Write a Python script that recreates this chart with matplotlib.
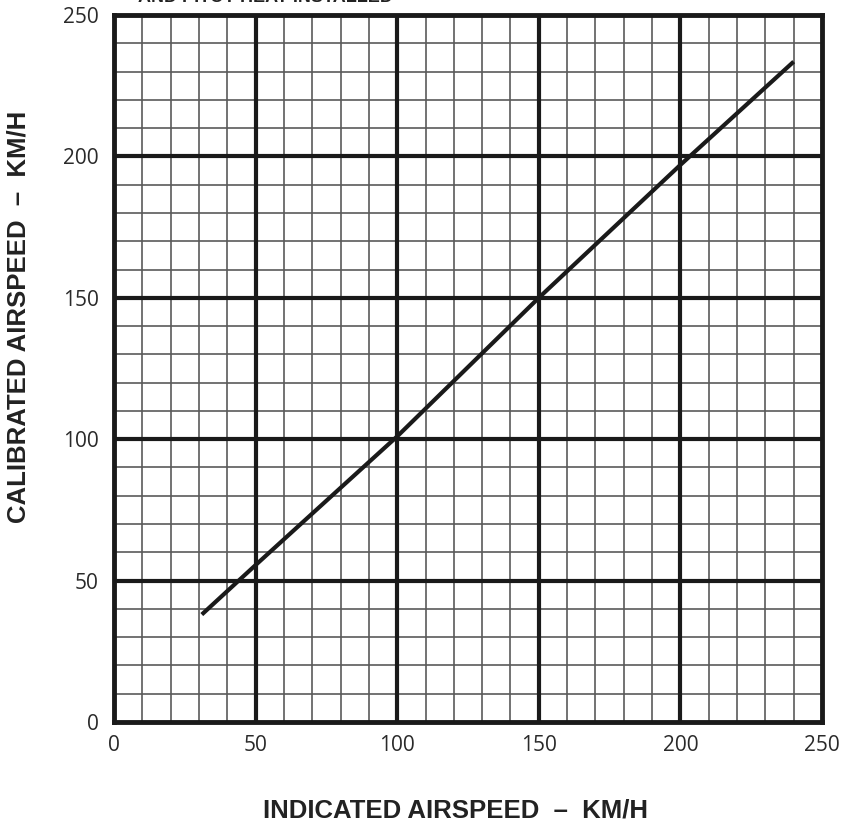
import numpy as np
import matplotlib
matplotlib.use('Agg')
import matplotlib.pyplot as plt

# values
indicated_kmh = [31, 50, 100, 150, 200, 240]
calibrated_kmh = [38, 55.5, 101, 150, 197, 233.5]
major_ticks = [0, 50, 100, 150, 200, 250]
minor_ticks = list(range(0, 251, 10))

plt.rcParams['font.family'] = ['Liberation Sans', 'DejaVu Sans']

W, H = 843, 822
fig = plt.figure(figsize=(W / 100, H / 100), dpi=100)
ax = fig.add_axes([114 / W, 100 / H, 708 / W, 707 / H])

ax.set_xlim(0, 250)
ax.set_ylim(0, 250)

for v in minor_ticks:
    if v in major_ticks:
        continue
    ax.axvline(v, color='#5a5a5a', lw=1.2, zorder=1)
    ax.axhline(v, color='#5a5a5a', lw=1.2, zorder=1)
for v in major_ticks[1:-1]:
    ax.axvline(v, color='#1a1a1a', lw=3, zorder=2)
    ax.axhline(v, color='#1a1a1a', lw=3, zorder=2)

ax.plot(indicated_kmh, calibrated_kmh, color='#1a1a1a', lw=3, solid_capstyle='butt', zorder=3)

ax.set_xticks(major_ticks)
ax.set_yticks(major_ticks)
ax.tick_params(length=0, labelsize=15, colors='#2a2a2a')
ax.tick_params(axis='x', pad=9)
ax.tick_params(axis='y', pad=11)
for lab in ax.get_xticklabels() + ax.get_yticklabels():
    lab.set_family(['Open Sans', 'DejaVu Sans'])
for s in ax.spines.values():
    s.set_linewidth(3.5)
    s.set_color('#1a1a1a')

fig.text(455 / W, 1 - 810 / H, 'INDICATED AIRSPEED  \u2013  KM/H', fontsize=18.5,
         fontweight='bold', color='#222222', ha='center', va='center')
fig.text(19 / W, 1 - 317 / H, 'CALIBRATED AIRSPEED  \u2013  KM/H', fontsize=18.5,
         fontweight='bold', color='#222222', ha='center', va='center', rotation=90)

# title line cut off at the top edge of the original
fig.text(138 / W, 1 - 1.5 / H, 'AND PITOT HEAT INSTALLED', fontsize=13,
         fontweight='bold', color='#222222', ha='left', va='baseline')

fig.savefig('out.png', dpi=100)
